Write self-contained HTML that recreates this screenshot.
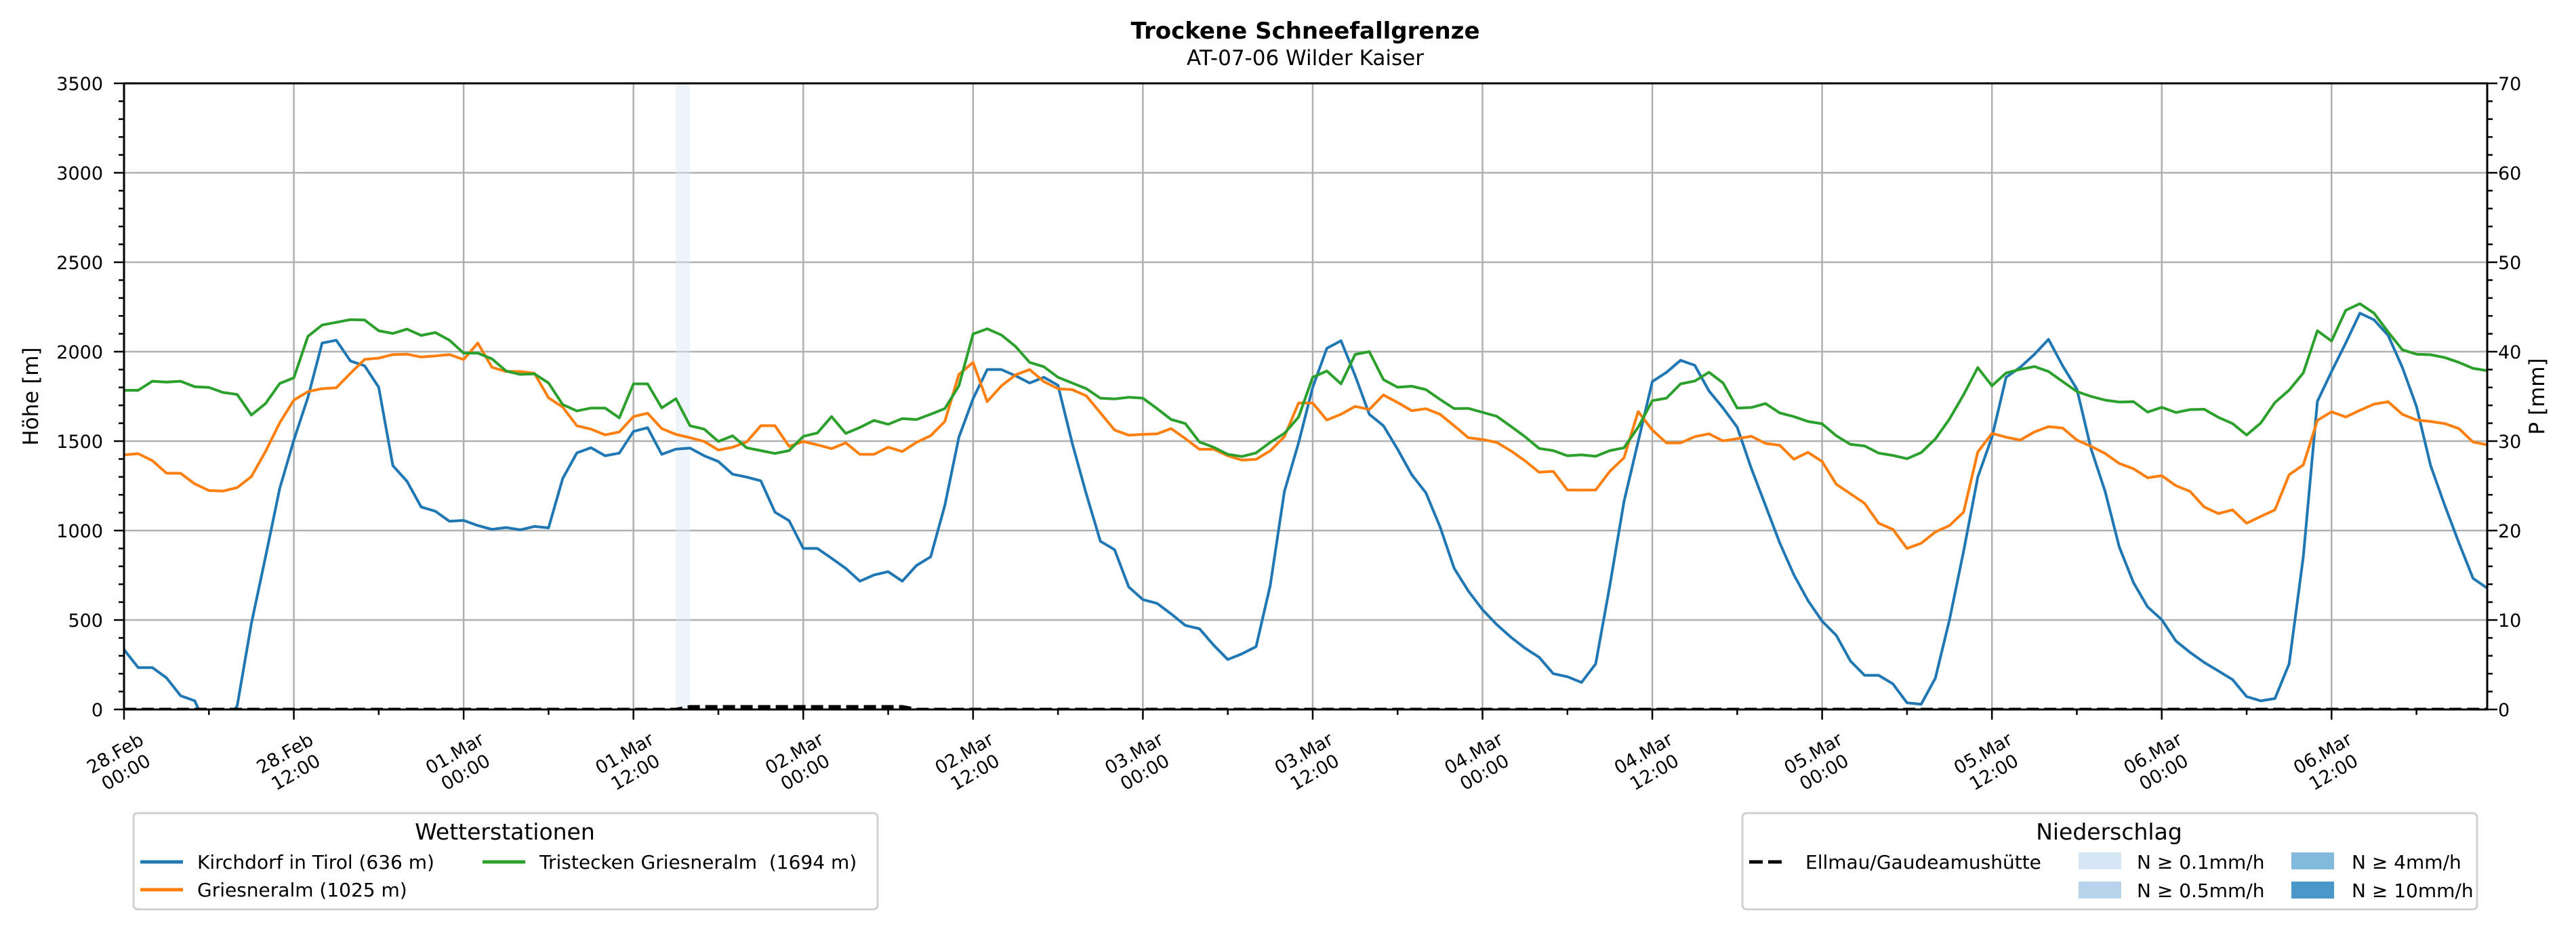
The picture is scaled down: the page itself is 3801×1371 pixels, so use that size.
<!DOCTYPE html>
<html><head><meta charset="utf-8"><style>
html,body{margin:0;padding:0;background:#fff;}
svg{display:block;font-family:"DejaVu Sans","Liberation Sans",sans-serif;}
</style></head><body>
<svg id="chart" xmlns="http://www.w3.org/2000/svg" width="3801" height="1371" viewBox="0 0 3801 1371">
<defs><clipPath id="plotclip"><rect x="183" y="123" width="3487" height="924"/></clipPath></defs>
<rect x="0" y="0" width="3801" height="1371" fill="#fff"/>
<text x="1926" y="57" text-anchor="middle" font-size="34" font-weight="bold">Trockene Schneefallgrenze</text>
<text x="1926" y="96" text-anchor="middle" font-size="31">AT-07-06 Wilder Kaiser</text>
<g id="grid"></g>
<g id="span"></g>
<g id="series" clip-path="url(#plotclip)"></g>
<g id="axes"></g>
<text x="0" y="0" transform="translate(56,585) rotate(-90)" text-anchor="middle" font-size="31">Höhe [m]</text>
<text x="0" y="0" transform="translate(3754,585) rotate(-90)" text-anchor="middle" font-size="31">P [mm]</text>

<g>
<rect x="197" y="1200" width="1098" height="142" rx="6" fill="#fff" stroke="#d0d0d0" stroke-width="3"/>
<text x="745" y="1239" text-anchor="middle" font-size="33">Wetterstationen</text>
<g><line x1="207" y1="1272" x2="270" y2="1272" stroke="#1f77b4" stroke-width="5"/><text x="291" y="1282" font-size="28">Kirchdorf in Tirol (636 m)</text></g>
<g><line x1="207" y1="1313" x2="270" y2="1313" stroke="#ff7f0e" stroke-width="5"/><text x="291" y="1323" font-size="28">Griesneralm (1025 m)</text></g>
<g><line x1="712" y1="1272" x2="775" y2="1272" stroke="#2ca02c" stroke-width="5"/><text x="796" y="1282" font-size="28" xml:space="preserve">Tristecken Griesneralm  (1694 m)</text></g>
</g>
<g>
<rect x="2571" y="1200" width="1084" height="142" rx="6" fill="#fff" stroke="#d0d0d0" stroke-width="3"/>
<text x="3112" y="1239" text-anchor="middle" font-size="33">Niederschlag</text>
<g><line x1="2581" y1="1272" x2="2637" y2="1272" stroke="#000" stroke-width="5" stroke-dasharray="20,8"/><text x="2664" y="1282" font-size="28">Ellmau/Gaudeamushütte</text></g>
<g><rect x="3067" y="1258" width="63" height="25" fill="#d6e6f4"/><text x="3153" y="1282" font-size="28">N ≥ 0.1mm/h</text></g>
<g><rect x="3067" y="1301" width="63" height="25" fill="#b7d4ea"/><text x="3153" y="1324" font-size="28">N ≥ 0.5mm/h</text></g>
<g><rect x="3381" y="1258" width="63" height="25" fill="#82badb"/><text x="3470" y="1282" font-size="28">N ≥ 4mm/h</text></g>
<g><rect x="3381" y="1301" width="63" height="25" fill="#4a98c9"/><text x="3470" y="1324" font-size="28">N ≥ 10mm/h</text></g>
</g>
</svg>
<script>
const kirchdorf = [335,234,234,177,77,48,-130,-100,20,480,853,1235,1506,1745,2048,2064,1948,1921,1801,1363,1275,1132,1108,1052,1057,1028,1007,1017,1004,1023,1015,1291,1434,1463,1418,1433,1554,1575,1426,1455,1461,1418,1386,1315,
1299,1278,1103,1055,900,900,845,789,717,752,770,717,805,853,1140,1522,1737,1900,1900,1865,1825,1857,1812,1490,1204,940,893,685,614,593,534,470,451,359,279,311,351,693,1219,1490,
1800,2019,2061,1866,1650,1586,1455,1312,1211,1020,789,662,558,475,404,343,292,200,183,151,255,693,1163,1498,1833,1884,1952,1924,1781,1685,1578,1347,1140,932,753,609,494,414,271,191,191,
143,37,29,175,502,885,1299,1522,1857,1913,1985,2069,1921,1791,1458,1219,908,709,573,502,383,319,263,215,167,72,48,61,255,853,1722,1889,2048,2215,2178,2091,1913,1694,1363,1140,932,733,678];
const griesneralm = [1423,1430,1391,1321,1320,1261,1224,1221,1240,1302,1442,1602,1729,1777,1793,1798,1879,1957,1964,1984,1986,1970,1976,1984,1956,2048,1913,1889,1889,1879,1742,1690,1586,1567,1535,1551,1637,1656,1570,1538,1519,1498,1450,1466,
1495,1586,1586,1471,1498,1479,1458,1490,1426,1426,1466,1442,1493,1530,1610,1873,1940,1721,1809,1870,1900,1833,1793,1788,1753,1658,1562,1533,1538,1541,1570,1514,1454,1455,1418,1394,1398,1446,1525,1713,
1713,1618,1650,1694,1677,1758,1716,1670,1681,1650,1586,1519,1509,1493,1446,1390,1326,1331,1227,1226,1227,1331,1407,1665,1562,1490,1490,1525,1541,1501,1514,1527,1487,1477,1399,1437,1386,1259,1206,1152,1041,
1007,900,929,992,1028,1103,1439,1543,1522,1506,1551,1581,1573,1506,1471,1431,1375,1346,1295,1307,1251,1219,1132,1095,1116,1041,1079,1116,1312,1367,1616,1664,1635,1672,1707,1720,1650,1618,1610,1598,1570,1495,1479];
const tristecken = [1784,1784,1835,1830,1835,1804,1800,1772,1761,1646,1710,1822,1854,2086,2149,2164,2179,2177,2117,2102,2126,2091,2107,2064,1992,1992,1960,1892,1873,1876,1825,1704,1669,1685,1685,1630,1820,1820,1686,1737,1586,1567,1498,1530,
1463,1447,1431,1447,1527,1546,1637,1543,1576,1616,1594,1626,1621,1650,1682,1809,2099,2128,2093,2029,1940,1916,1857,1825,1793,1740,1736,1745,1740,1682,1621,1598,1495,1466,1426,1414,1434,1493,1543,1634,
1857,1892,1820,1985,2000,1844,1801,1807,1788,1733,1682,1683,1661,1639,1583,1525,1459,1447,1418,1423,1415,1447,1463,1578,1726,1740,1820,1836,1885,1825,1685,1688,1710,1658,1637,1610,1597,1530,1482,1473,1433,
1420,1402,1436,1512,1624,1760,1911,1809,1881,1901,1917,1889,1833,1777,1750,1729,1718,1721,1662,1689,1660,1676,1678,1633,1598,1534,1601,1716,1785,1881,2117,2060,2231,2268,2215,2110,2011,1986,1983,1967,1940,1907,1894];
const precip = (function(){const a=[];for(let i=0;i<168;i++)a.push(0);return a;})();
const precipRaised = [0.3,0.3,0.3,0.3,0.3,0.3,0.3,0.3,0.3,0.3,0.3,0.3,0.3,0.3,0.3,0.3];
for(let i=0;i<precipRaised.length;i++) precip[40+i]=precipRaised[i];
const spanHours = [39,40];
const xTickLabels = [["28.Feb","00:00"],["28.Feb","12:00"],["01.Mar","00:00"],["01.Mar","12:00"],["02.Mar","00:00"],["02.Mar","12:00"],["03.Mar","00:00"],["03.Mar","12:00"],["04.Mar","00:00"],["04.Mar","12:00"],["05.Mar","00:00"],["05.Mar","12:00"],["06.Mar","00:00"],["06.Mar","12:00"]];
const yTicks = [0,500,1000,1500,2000,2500,3000,3500];
const y2Ticks = [0,10,20,30,40,50,60,70];

const L=183,R=3670,T=123,B=1047,HMAX=167;
const NS="http://www.w3.org/2000/svg";
function X(h){return L+(R-L)*h/HMAX;}
function Y(v){return B-(B-T)*v/3500;}
function Y2(v){return B-(B-T)*v/70;}
function mk(tag,attrs,parent){const e=document.createElementNS(NS,tag);for(const k in attrs)e.setAttribute(k,attrs[k]);parent.appendChild(e);return e;}
const grid=document.getElementById('grid'),axes=document.getElementById('axes'),series=document.getElementById('series'),span=document.getElementById('span');

for(let i=0;i<xTickLabels.length;i++){const x=X(i*12);
 const g=mk('line',{x1:x,y1:T,x2:x,y2:B,stroke:'#b0b0b0','stroke-width':2.5},grid);
 
 }
for(const v of yTicks){const y=Y(v);
 const g=mk('line',{x1:L,y1:y,x2:R,y2:y,stroke:'#b0b0b0','stroke-width':2.5},grid);
 
 }

const sp=mk('rect',{x:X(spanHours[0]),y:T,width:X(spanHours[1])-X(spanHours[0]),height:B-T,fill:'#d6e6f4','fill-opacity':0.45},span);



function line(data,color,name,dash,scale){
 let d='';data.forEach((v,i)=>{d+=(i?'L':'M')+X(i).toFixed(1)+','+scale(v).toFixed(1);});
 const p=mk('path',{d:d,fill:'none',stroke:color,'stroke-width':dash?5:4,'stroke-linejoin':'round'},series);
 if(dash)p.setAttribute('stroke-dasharray',dash);
 
 
}
line(kirchdorf,'#1f77b4','line-kirchdorf',null,Y);
line(griesneralm,'#ff7f0e','line-griesneralm',null,Y);
line(tristecken,'#2ca02c','line-tristecken',null,Y);
line(precip,'#000','line-precip-ellmau','18,8',Y2);

const sp1=mk('rect',{x:L,y:T,width:R-L,height:B-T,fill:'none',stroke:'#000','stroke-width':3},axes);


for(let v=0;v<=3500;v+=100){const y=Y(v);const major=v%500===0;
 mk('line',{x1:L,y1:y,x2:L-(major?15:8),y2:y,stroke:'#000','stroke-width':2.5},axes);}
for(const v of yTicks){const t=mk('text',{x:152,y:Y(v)+10,'text-anchor':'end','font-size':27},axes);t.textContent=v;
 
 }
for(let v=0;v<=70;v+=2){const y=Y2(v);const major=v%10===0;
 mk('line',{x1:R,y1:y,x2:R+(major?15:8),y2:y,stroke:'#000','stroke-width':2.5},axes);}
for(const v of y2Ticks){const t=mk('text',{x:3686,y:Y2(v)+10,'font-size':27},axes);t.textContent=v;
 
 }
for(let h=0;h<=HMAX;h+=6){const x=X(h);const major=h%12===0;
 mk('line',{x1:x,y1:B,x2:x,y2:B+(major?15:8),stroke:'#000','stroke-width':2.5},axes);}
xTickLabels.forEach((lab,i)=>{const x=X(i*12)-5,y=1126;
 const t=mk('text',{x:0,y:0,'text-anchor':'middle','font-size':27,transform:`translate(${x},${y}) rotate(-30)`},axes);
 
 
 mk('tspan',{x:0,y:-7},t).textContent=lab[0];
 mk('tspan',{x:0,y:25},t).textContent=lab[1];
});
</script>
</body></html>
